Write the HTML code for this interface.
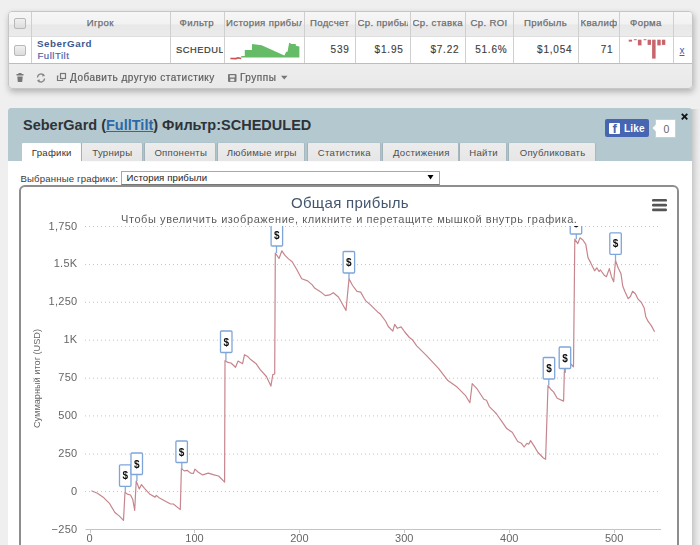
<!DOCTYPE html>
<html><head><meta charset="utf-8">
<style>
*{box-sizing:border-box;margin:0;padding:0}
html,body{width:700px;height:545px;overflow:hidden;background:#efefef;font-family:"Liberation Sans",sans-serif}
body{position:relative}
.a{position:absolute;white-space:nowrap}
.hd{top:15.5px;height:14px;font-size:9.6px;letter-spacing:0.35px;line-height:14px;color:#666;-webkit-text-stroke:0.25px #777;text-align:center;overflow:hidden;font-weight:normal}
.dt{font-size:10px;letter-spacing:0.8px;color:#383838;-webkit-text-stroke:0.15px #555;line-height:14px}
.tab{position:absolute;top:142.5px;height:18.5px;background:linear-gradient(#ececec,#e6e6e6);border-radius:1px 1px 0 0;box-shadow:-1px 0 1px rgba(0,0,0,0.12),1px 0 1px rgba(0,0,0,0.08);font-size:9.6px;letter-spacing:0.25px;text-indent:1px;color:#4e4e4e;line-height:19px;text-align:center;white-space:nowrap}
.tab.act{background:#fff;color:#333;box-shadow:none}
svg text{font-family:"Liberation Sans",sans-serif}
</style></head>
<body>
<div id="wrap" style="position:absolute;left:0;top:0;width:700px;height:545px;overflow:hidden;filter:blur(0.3px)">
<!-- top table -->
<div class="a" style="left:8px;top:11px;width:685px;height:77.5px;border:1px solid #c6c6c6;border-radius:4px;background:linear-gradient(#e8e8e8 0%,#e6e6e6 30%,#efefef 60%,#e9e9e9 100%);box-shadow:1px 3px 6px rgba(0,0,0,0.26)"></div>
<div class="a" style="left:9px;top:12px;width:683px;height:24px;background:linear-gradient(#f6f6f6 0%,#f2f2f2 48%,#e8e8e8 55%,#ebebeb 100%);border-radius:3px 3px 0 0"></div>
<div class="a" style="left:9px;top:36px;width:683px;height:1px;background:#dedede"></div>
<div class="a" style="left:9px;top:37px;width:683px;height:26px;background:#fff"></div>
<div class="a" style="left:9px;top:63px;width:683px;height:1px;background:#bdbdbd"></div>
<div class="a" style="left:31px;top:12px;width:1px;height:51px;background:#cfcfcf"></div><div class="a" style="left:170px;top:12px;width:1px;height:51px;background:#cfcfcf"></div><div class="a" style="left:224px;top:12px;width:1px;height:51px;background:#cfcfcf"></div><div class="a" style="left:304px;top:12px;width:1px;height:51px;background:#cfcfcf"></div><div class="a" style="left:355px;top:12px;width:1px;height:51px;background:#cfcfcf"></div><div class="a" style="left:410px;top:12px;width:1px;height:51px;background:#cfcfcf"></div><div class="a" style="left:465px;top:12px;width:1px;height:51px;background:#cfcfcf"></div><div class="a" style="left:513px;top:12px;width:1px;height:51px;background:#cfcfcf"></div><div class="a" style="left:578px;top:12px;width:1px;height:51px;background:#cfcfcf"></div><div class="a" style="left:619px;top:12px;width:1px;height:51px;background:#cfcfcf"></div><div class="a" style="left:673px;top:12px;width:1px;height:51px;background:#cfcfcf"></div>
<div class="a hd" style="left:33px;width:134.5px">Игрок</div><div class="a hd" style="left:172.5px;width:48.5px">Фильтр</div><div class="a hd" style="left:226px;width:75.60000000000002px">История прибыли</div><div class="a hd" style="left:306.6px;width:45.89999999999998px">Подсчет</div><div class="a hd" style="left:357.5px;width:50.0px">Ср. прибыль</div><div class="a hd" style="left:412.5px;width:50.0px">Ср. ставка</div><div class="a hd" style="left:467.5px;width:43.0px">Ср. ROI</div><div class="a hd" style="left:515.5px;width:60.10000000000002px">Прибыль</div><div class="a hd" style="left:580.6px;width:36.0px">Квалификация</div><div class="a hd" style="left:621.6px;width:48.69999999999993px">Форма</div>
<div class="a" style="left:14px;top:18px;width:12px;height:11px;border:1px solid #b8b8b8;border-radius:2px;background:linear-gradient(#f0f0f0,#dcdcdc)"></div>
<div class="a" style="left:14px;top:45px;width:12px;height:11px;border:1px solid #b8b8b8;border-radius:2px;background:linear-gradient(#f0f0f0,#dcdcdc)"></div>
<div class="a" style="left:37px;top:37.5px;font:bold 9.8px 'Liberation Sans';letter-spacing:0.55px;color:#3d5890;line-height:12px">SeberGard</div>
<div class="a" style="left:37.5px;top:50px;font:9.6px 'Liberation Sans';letter-spacing:0.5px;color:#5064ac;-webkit-text-stroke:0.2px #5064ac;line-height:12px">FullTilt</div>
<div class="a" style="left:176px;top:43px;width:47px;overflow:hidden;font:9.3px 'Liberation Sans';letter-spacing:0.55px;color:#333;-webkit-text-stroke:0.2px #444;line-height:14px">SCHEDULED</div>
<div class="a dt" style="right:350.4px;top:43px">539</div>
<div class="a dt" style="right:296.4px;top:43px">$1.95</div>
<div class="a dt" style="right:240.6px;top:43px">$7.22</div>
<div class="a dt" style="right:192.5px;top:43px">51.6%</div>
<div class="a dt" style="right:127.6px;top:43px">$1,054</div>
<div class="a dt" style="right:86.6px;top:43px">71</div>
<div class="a" style="left:679.5px;top:44px;font:10px 'Liberation Sans';color:#4060b0;text-decoration:underline;line-height:14px">x</div>
<!-- footer -->
<div class="a" style="left:70px;top:71px;font:10px 'Liberation Sans';letter-spacing:0.5px;color:#5a5a5a;-webkit-text-stroke:0.2px #666;line-height:14px">Добавить другую статистику</div>
<div class="a" style="left:240px;top:71px;font:10px 'Liberation Sans';letter-spacing:0.5px;color:#5a5a5a;-webkit-text-stroke:0.2px #666;line-height:14px">Группы</div>
<svg class="a" style="left:0;top:0" width="700" height="100">
  <rect x="628.7" y="39.7" width="3.4" height="1.8999999999999986" fill="#c8646c"/><rect x="633.9" y="39.2" width="2.8" height="1.0" fill="#c8646c"/><rect x="637.9" y="39.7" width="3.6" height="5.699999999999996" fill="#c8646c"/><rect x="643.6" y="39.2" width="2.8" height="1.0" fill="#c8646c"/><rect x="647.6" y="39.7" width="3.4" height="5.199999999999996" fill="#c8646c"/><rect x="652.1" y="39.7" width="3.5" height="18.9" fill="#c8646c"/><rect x="657.3" y="39.7" width="3.4" height="5.699999999999996" fill="#c8646c"/><rect x="661.9" y="39.7" width="3.4" height="5.199999999999996" fill="#c8646c"/>
  <path d="M241.2,57.6 L241.2,56 L244.8,56 L244.8,50 L250.2,50 L252,50 L252,44 L261.6,45.2 L284.4,55.4 L286.2,51.8 L287.5,51.8 L289.2,42.8 L291.6,44 L295.8,44 L295.8,45.8 L299.4,46.4 L299.4,57.6 Z" fill="#66bb66"/>
  <path d="M230.4,58.5 L236,58.6 L238,57.8 L241.2,58.5" stroke="#c85050" stroke-width="1.6" fill="none"/>
  <!-- trash -->
  <rect x="16.5" y="74" width="7" height="1.5" fill="#777"/>
  <rect x="18.5" y="73" width="3" height="1.2" fill="#777"/>
  <path d="M17.3,76.5 L22.7,76.5 L22.2,82 L17.8,82 Z" fill="#777"/>
  <!-- refresh -->
  <path d="M37.5,77.5 A3.6,3.6 0 0 1 44,75.5 M44.5,78.5 A3.6,3.6 0 0 1 38,80.5" stroke="#888" stroke-width="1.3" fill="none"/>
  <path d="M43,73.5 L45,76 L42,76.5 Z M39,82.5 L37,80 L40,79.5 Z" fill="#888"/>
  <!-- copy -->
  <rect x="60.5" y="73.5" width="5" height="5" fill="none" stroke="#777" stroke-width="1.2"/>
  <path d="M58.5,76 L57.5,76 L57.5,80.5 L62.5,80.5 L62.5,79.5" fill="none" stroke="#777" stroke-width="1.2"/>
  <!-- floppy -->
  <rect x="228" y="74" width="8.5" height="8" rx="1" fill="#777"/>
  <rect x="229.8" y="75.2" width="5" height="2.3" fill="#e8e8e8"/>
  <rect x="230.3" y="78.8" width="4" height="2.5" fill="#e8e8e8"/>
  <path d="M281,75.7 L287.5,75.7 L284.25,79.5 Z" fill="#777"/>
</svg>

<!-- panel -->
<div class="a" style="left:691px;top:109px;width:9px;height:440px;background:linear-gradient(90deg,#c2c2c2,#d6d6d6 35%,#e6e6e6 70%,#eeeeee)"></div>
<div class="a" style="left:8px;top:108px;width:683.5px;height:450px;background:#fff;border-radius:3px 3px 0 0"></div>
<div class="a" style="left:8px;top:108px;width:683.5px;height:53px;background:#b4c8cf;border-radius:3px 3px 0 0"></div>
<div class="a" style="left:23px;top:115px;font:bold 14.5px 'Liberation Sans';color:#2e3338;line-height:20px">SeberGard (<span style="color:#2b69a8;text-decoration:underline">FullTilt</span>) Фильтр:SCHEDULED</div>
<div class="tab act" style="left:22px;width:58.599999999999994px">Графики</div><div class="tab" style="left:82px;width:59.69999999999999px">Турниры</div><div class="tab" style="left:145.1px;width:70.30000000000001px">Оппоненты</div><div class="tab" style="left:218.3px;width:86.0px">Любимые игры</div><div class="tab" style="left:307.7px;width:72.19999999999999px">Статистика</div><div class="tab" style="left:383.3px;width:75.0px">Достижения</div><div class="tab" style="left:460px;width:46.30000000000001px">Найти</div><div class="tab" style="left:509.1px;width:85.89999999999998px">Опубликовать</div>
<!-- fb like -->
<div class="a" style="left:605px;top:119px;width:44px;height:18px;background:#4766b1;border-radius:2px"></div>
<div class="a" style="left:609px;top:123px;width:11px;height:11px;background:#fff;border-radius:1px"></div>
<div class="a" style="left:612.5px;top:121.5px;font:bold 13px 'Liberation Sans';color:#4766b1;line-height:14px">f</div>
<div class="a" style="left:624px;top:122px;font:bold 10px 'Liberation Sans';color:#fff;line-height:14px;letter-spacing:0.2px">Like</div>
<div class="a" style="left:655px;top:119px;width:20.5px;height:18.5px;background:#fff;border:1px solid #c8d0d4;border-radius:1px"></div>
<svg class="a" style="left:650px;top:122px" width="8" height="12"><path d="M6.5,2 L2.5,6 L6.5,10 Z" fill="#fff"/></svg>
<div class="a" style="left:663.5px;top:122px;font:10.5px 'Liberation Sans';color:#666;line-height:14px">0</div>
<svg class="a" style="left:679px;top:111.5px" width="12" height="10"><path d="M2.8,1.8 L8.3,7.3 M8.3,1.8 L2.8,7.3" stroke="#151515" stroke-width="1.9"/></svg>
<!-- select -->
<div class="a" style="left:20.5px;top:172.5px;font:9.6px 'Liberation Sans';letter-spacing:0.16px;color:#3a3a3a;line-height:12px">Выбранные графики:</div>
<div class="a" style="left:121px;top:171px;width:319px;height:14px;border:1px solid #a8a8a8;border-bottom-color:#777;background:#fff"></div>
<div class="a" style="left:126.5px;top:171.8px;font:9.6px 'Liberation Sans';letter-spacing:0.1px;color:#222;line-height:12px">История прибыли</div>
<svg class="a" style="left:426px;top:174px" width="10" height="8"><path d="M1.5,1 L7.5,1 L4.5,5.5 Z" fill="#000"/></svg>
<!-- chart box -->
<div class="a" style="left:19px;top:184.5px;width:660px;height:400px;border:2px solid #8e8e8e;border-radius:6px;background:#fff"></div>
<svg class="a" style="left:0;top:0" width="700" height="545">
  <line x1="85" y1="226.5" x2="661" y2="226.5" stroke="#c4c4c4" stroke-width="1" stroke-dasharray="1,3"/><line x1="85" y1="264.6" x2="661" y2="264.6" stroke="#c4c4c4" stroke-width="1" stroke-dasharray="1,3"/><line x1="85" y1="302.3" x2="661" y2="302.3" stroke="#c4c4c4" stroke-width="1" stroke-dasharray="1,3"/><line x1="85" y1="340.2" x2="661" y2="340.2" stroke="#c4c4c4" stroke-width="1" stroke-dasharray="1,3"/><line x1="85" y1="378.2" x2="661" y2="378.2" stroke="#c4c4c4" stroke-width="1" stroke-dasharray="1,3"/><line x1="85" y1="415.9" x2="661" y2="415.9" stroke="#c4c4c4" stroke-width="1" stroke-dasharray="1,3"/><line x1="85" y1="454.1" x2="661" y2="454.1" stroke="#c4c4c4" stroke-width="1" stroke-dasharray="1,3"/><line x1="85" y1="491.6" x2="661" y2="491.6" stroke="#c4c4c4" stroke-width="1" stroke-dasharray="1,3"/>
  <line x1="85.5" y1="529.5" x2="661" y2="529.5" stroke="#c4c4c4" stroke-width="1"/>
  <line x1="90.5" y1="529" x2="90.5" y2="533" stroke="#c8c8c8" stroke-width="1"/><line x1="194.5" y1="529" x2="194.5" y2="533" stroke="#c8c8c8" stroke-width="1"/><line x1="299.5" y1="529" x2="299.5" y2="533" stroke="#c8c8c8" stroke-width="1"/><line x1="404.5" y1="529" x2="404.5" y2="533" stroke="#c8c8c8" stroke-width="1"/><line x1="509.5" y1="529" x2="509.5" y2="533" stroke="#c8c8c8" stroke-width="1"/><line x1="614.5" y1="529" x2="614.5" y2="533" stroke="#c8c8c8" stroke-width="1"/>
  <g font-size="11" fill="#666"><text x="77.5" y="229.5" text-anchor="end" letter-spacing="0.3">1,750</text><text x="77.5" y="267.40000000000003" text-anchor="end" letter-spacing="0.3">1.5K</text><text x="77.5" y="305.3" text-anchor="end" letter-spacing="0.3">1,250</text><text x="77.5" y="343.2" text-anchor="end" letter-spacing="0.3">1K</text><text x="77.5" y="381.1" text-anchor="end" letter-spacing="0.3">750</text><text x="77.5" y="419.0" text-anchor="end" letter-spacing="0.3">500</text><text x="77.5" y="456.90000000000003" text-anchor="end" letter-spacing="0.3">250</text><text x="77.5" y="494.8" text-anchor="end" letter-spacing="0.3">0</text><text x="77.5" y="532.7" text-anchor="end" letter-spacing="0.3">−250</text></g>
  <g font-size="11" fill="#666"><text x="89.6" y="541.5" text-anchor="middle">0</text><text x="194.5" y="541.5" text-anchor="middle">100</text><text x="299.4" y="541.5" text-anchor="middle">200</text><text x="404.3" y="541.5" text-anchor="middle">300</text><text x="509.2" y="541.5" text-anchor="middle">400</text><text x="614.1" y="541.5" text-anchor="middle">500</text></g>
  <text x="0" y="0" font-size="9.2" fill="#666" text-anchor="middle" transform="translate(39.8,378.5) rotate(-90)">Суммарный итог (USD)</text>
  <text x="291" y="208" font-size="15" letter-spacing="0.3" fill="#44566e">Общая прибыль</text>
  <text x="121" y="222.5" font-size="11" letter-spacing="0.58" fill="#5c5c5c">Чтобы увеличить изображение, кликните и перетащите мышкой внутрь графика.</text>
  <g fill="#555"><rect x="652" y="199" width="15" height="2.6" rx="1.2"/><rect x="652" y="203.8" width="15" height="2.6" rx="1.2"/><rect x="652" y="208.6" width="15" height="2.6" rx="1.2"/></g>
  <clipPath id="pc"><rect x="85" y="226" width="580" height="310"/></clipPath>
  <g clip-path="url(#pc)">
  <path d="M91.4,490.8 L97.4,493.2 L103.9,497.8 L109.4,503.3 L114.9,512.5 L119.4,516.1 L123.5,520.4 L125.0,492.3 L127.3,494.1 L130.5,495.0 L132.8,499.6 L134.7,510.3 L136.2,481.0 L139.3,489.0 L141.5,484.6 L144.5,488.3 L150.0,494.3 L155.1,497.1 L156.3,495.4 L159.1,497.7 L165.0,501.0 L170.6,504.0 L173.4,504.0 L179.7,509.1 L180.3,509.5 L181.4,468.6 L184.3,470.9 L187.1,470.3 L190.6,473.1 L193.4,473.5 L194.9,469.1 L198.0,472.0 L202.6,474.9 L208.3,473.1 L214.0,474.9 L218.6,476.0 L223.7,481.1 L224.6,482.0 L225.0,360.5 L227.8,362.4 L231.0,363.0 L235.5,367.3 L238.1,361.1 L242.6,363.7 L244.5,354.7 L247.8,356.6 L251.0,359.8 L256.1,363.7 L260.0,369.4 L266.4,376.5 L270.9,386.1 L272.8,374.6 L274.7,374.0 L275.3,253.0 L279.0,258.5 L281.9,250.8 L284.8,255.2 L288.5,258.9 L292.2,261.8 L296.6,269.2 L301.7,278.7 L307.6,280.9 L312.0,284.6 L314.9,288.3 L320.8,291.9 L325.2,295.6 L329.6,294.9 L333.3,292.7 L338.4,297.0 L341.0,301.5 L346.0,310.5 L349.0,278.9 L352.6,285.5 L357.0,291.4 L360.7,292.1 L364.4,298.7 L365.8,300.9 L370.2,304.6 L377.6,311.9 L380.0,313.7 L385.5,321.0 L388.3,326.5 L392.8,331.1 L394.7,324.3 L397.4,328.3 L401.1,326.9 L404.8,332.0 L409.4,337.5 L412.1,339.4 L416.7,345.8 L426.8,355.9 L438.7,368.7 L447.9,380.6 L457.1,387.1 L465.3,395.3 L469.9,402.7 L472.2,383.7 L477.3,389.2 L483.8,399.3 L486.5,400.2 L489.3,406.6 L493.9,411.2 L496.6,414.0 L503.0,423.1 L506.7,428.6 L512.2,432.3 L517.7,441.5 L521.4,443.3 L524.1,447.0 L526.9,443.3 L528.7,444.2 L530.6,440.6 L534.2,446.1 L537.9,452.5 L543.4,458.0 L545.6,459.3 L548.0,385.5 L550.7,389.2 L553.5,391.9 L557.2,398.3 L563.6,401.1 L564.3,373.0 L565.0,360.0 L570.8,364.0 L573.5,366.8 L574.8,239.2 L577.8,243.6 L580.0,237.8 L582.9,240.0 L585.8,244.4 L588.0,257.6 L591.0,263.4 L594.6,270.8 L596.8,267.8 L599.0,271.5 L600.5,270.0 L604.2,275.2 L606.4,276.7 L609.3,268.6 L611.5,276.7 L613.7,281.8 L615.5,260.5 L618.1,267.8 L621.0,273.7 L622.7,286.0 L624.9,291.5 L628.2,298.7 L630.4,296.5 L632.6,291.3 L635.4,293.7 L638.1,299.2 L641.4,302.5 L644.2,308.0 L645.8,316.8 L648.0,321.2 L651.3,325.6 L654.6,331.7" fill="none" stroke="#c7858d" stroke-width="1.2" stroke-linejoin="round"/>
  <line x1="125.3" y1="485.8" x2="125.3" y2="492" stroke="#86aad8" stroke-width="1.3"/><rect x="119.5" y="464.8" width="11.5" height="21.5" fill="#fff" stroke="#7ea5da" stroke-width="1.3" rx="1"/><text x="125.25" y="479.3" text-anchor="middle" font-size="10" font-weight="bold" fill="#111">$</text><line x1="136.9" y1="474.0" x2="136.9" y2="481" stroke="#86aad8" stroke-width="1.3"/><rect x="131.0" y="453.0" width="11.5" height="21.5" fill="#fff" stroke="#7ea5da" stroke-width="1.3" rx="1"/><text x="136.75" y="467.5" text-anchor="middle" font-size="10" font-weight="bold" fill="#111">$</text><line x1="181.8" y1="462.0" x2="181.8" y2="469" stroke="#86aad8" stroke-width="1.3"/><rect x="175.9" y="441.0" width="11.5" height="21.5" fill="#fff" stroke="#7ea5da" stroke-width="1.3" rx="1"/><text x="181.65" y="455.5" text-anchor="middle" font-size="10" font-weight="bold" fill="#111">$</text><line x1="225.9" y1="352.0" x2="225.9" y2="360.5" stroke="#86aad8" stroke-width="1.3"/><rect x="220.5" y="331.0" width="11.5" height="21.5" fill="#fff" stroke="#7ea5da" stroke-width="1.3" rx="1"/><text x="226.25" y="345.5" text-anchor="middle" font-size="10" font-weight="bold" fill="#111">$</text><line x1="276.5" y1="245.5" x2="276.5" y2="253" stroke="#86aad8" stroke-width="1.3"/><rect x="271.1" y="224.5" width="11.5" height="21.5" fill="#fff" stroke="#7ea5da" stroke-width="1.3" rx="1"/><text x="276.85" y="239" text-anchor="middle" font-size="10" font-weight="bold" fill="#111">$</text><line x1="349" y1="272.5" x2="349" y2="279" stroke="#86aad8" stroke-width="1.3"/><rect x="343.1" y="251.5" width="11.5" height="21.5" fill="#fff" stroke="#7ea5da" stroke-width="1.3" rx="1"/><text x="348.85" y="266" text-anchor="middle" font-size="10" font-weight="bold" fill="#111">$</text><line x1="548.8" y1="378.5" x2="548.8" y2="385.5" stroke="#86aad8" stroke-width="1.3"/><rect x="543.2" y="357.5" width="11.5" height="21.5" fill="#fff" stroke="#7ea5da" stroke-width="1.3" rx="1"/><text x="548.95" y="372" text-anchor="middle" font-size="10" font-weight="bold" fill="#111">$</text><line x1="565.3" y1="368.0" x2="565.3" y2="373" stroke="#86aad8" stroke-width="1.3"/><rect x="559.2" y="347.0" width="11.5" height="21.5" fill="#fff" stroke="#7ea5da" stroke-width="1.3" rx="1"/><text x="564.95" y="361.5" text-anchor="middle" font-size="10" font-weight="bold" fill="#111">$</text><line x1="576.3" y1="233.5" x2="576.3" y2="239.2" stroke="#86aad8" stroke-width="1.3"/><rect x="570.2" y="212.5" width="11.5" height="21.5" fill="#fff" stroke="#7ea5da" stroke-width="1.3" rx="1"/><text x="575.95" y="227" text-anchor="middle" font-size="10" font-weight="bold" fill="#111">$</text><line x1="615.5" y1="253.8" x2="615.5" y2="260.5" stroke="#86aad8" stroke-width="1.3"/><rect x="609.8" y="232.8" width="11.5" height="21.5" fill="#fff" stroke="#7ea5da" stroke-width="1.3" rx="1"/><text x="615.55" y="247.3" text-anchor="middle" font-size="10" font-weight="bold" fill="#111">$</text>
  </g>
</svg>
</div>
</body></html>
